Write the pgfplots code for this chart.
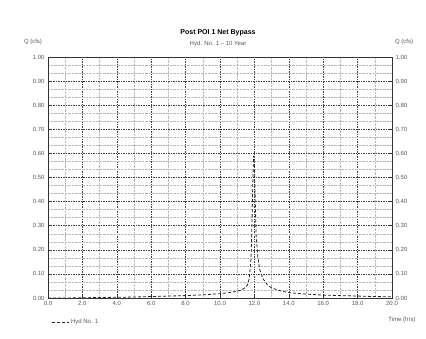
\documentclass[border=0pt]{standalone}
\usepackage{pgfplots}
\pgfplotsset{compat=1.18}
\usepackage{fontspec}
\setmainfont{Liberation Sans}
\definecolor{txt}{gray}{0.35}
\begin{document}
\begin{tikzpicture}[x=1pt,y=1pt]
\useasboundingbox (0,0) rectangle (426,339);
\pgfplotsset{
  common/.style={
    scale only axis, width=344pt, height=241pt,
    at={(48pt,41pt)}, anchor=south west,
    xmin=0, xmax=20, ymin=0, ymax=1,
    xtick={0,2,...,20}, ytick={0,0.1,...,1.0},
    tick label style={font=\fontsize{6}{7}\selectfont, text=txt},
    /pgf/number format/assume math mode=true,
    tick style={black!80, thin},
    major tick length=3pt,
  }
}
\begin{axis}[common,
  minor x tick num=1, minor y tick num=2,
  grid=both,
  major grid style={black!75, dash pattern=on 1.5pt off 1pt, line width=0.45pt},
  minor grid style={gray!55, densely dotted, line width=0.4pt},
  axis line style={black!80, line width=0.6pt},
  xtick pos=bottom, ytick pos=left,
  minor tick length=0pt,
  xticklabel style={/pgf/number format/.cd, fixed, fixed zerofill, precision=1},
  yticklabel style={/pgf/number format/.cd, fixed, fixed zerofill, precision=2},
  legend style={at={(0.0,-0.1)}, anchor=west, draw=none, fill=none,
    font=\fontsize{6}{7}\selectfont, text=txt},
  legend cell align=left,
]
\addplot[black!85, densely dashed, line width=0.8pt] coordinates {
(0,0.000) (1,0.000) (2,0.001) (3,0.002) (4,0.003) (5,0.004) (6,0.006) (7,0.008)
(8,0.010) (9,0.013) (10,0.018) (10.5,0.022) (11,0.028) (11.25,0.033) (11.5,0.045)
(11.6,0.055) (11.7,0.08) (11.8,0.16) (11.85,0.28) (11.9,0.45) (11.95,0.59)
(12.0,0.56) (12.05,0.40) (12.1,0.26) (12.2,0.17) (12.3,0.12) (12.5,0.08)
(12.75,0.055) (13.0,0.042) (13.5,0.03) (14,0.022) (15,0.016) (16,0.012)
(17,0.010) (18,0.008) (19,0.006) (20,0.005)
};
\addlegendentry{Hyd No. 1}
\end{axis}
\begin{axis}[common,
  hide x axis, axis y line*=right,
  axis line style={black!80, line width=0.6pt},
  yticklabel style={/pgf/number format/.cd, fixed, fixed zerofill, precision=2},
]
\end{axis}
\node[font=\bfseries\fontsize{7}{8}\selectfont] at (218,306) {Post POI 1 Net Bypass};
\node[font=\fontsize{6}{7}\selectfont, text=txt] at (218,295) {Hyd. No. 1 -- 10 Year};
\node[font=\fontsize{6}{7}\selectfont, text=txt] at (33,297) {Q (cfs)};
\node[font=\fontsize{6}{7}\selectfont, text=txt] at (404,297) {Q (cfs)};
\node[font=\fontsize{6}{7}\selectfont, text=txt] at (402,19) {Time (hrs)};
\end{tikzpicture}
\end{document}
